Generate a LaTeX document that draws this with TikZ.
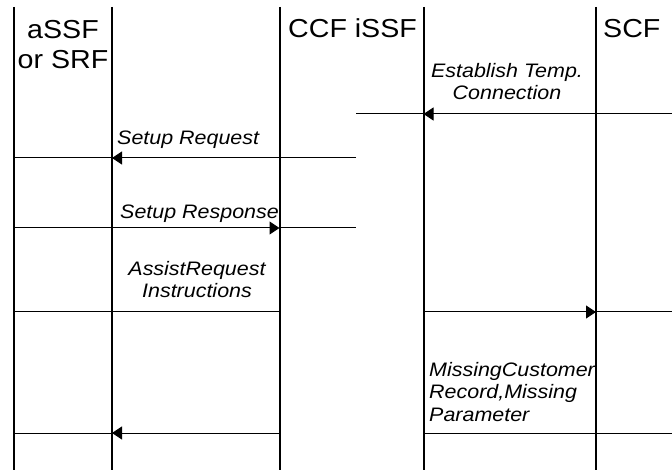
\documentclass[tikz,border=0pt]{standalone}
\usepackage{fontspec}
\setmainfont[FakeStretch=1.1]{Liberation Sans}
\usetikzlibrary{arrows.meta}
\begin{document}
\begin{tikzpicture}[x=1pt,y=-1pt,
  life/.style={line width=2pt},
  msg/.style={line width=1pt},
  tipped/.style={-{Triangle[length=10pt,width=13pt]}},
  head/.style={inner sep=0pt,font=\fontsize{26}{30}\selectfont},
  lab/.style={inner sep=0pt,font=\fontsize{19.5}{22.5}\selectfont\itshape}]
\useasboundingbox (0,0) rectangle (672,470);
% lifelines
\coordinate (aT) at (13.5,7);  \coordinate (aB) at (13.5,470);
\coordinate (bT) at (112,7);   \coordinate (bB) at (112,470);
\coordinate (cT) at (279.5,7); \coordinate (cB) at (279.5,470);
\coordinate (dT) at (423.5,7); \coordinate (dB) at (423.5,470);
\coordinate (eT) at (596,7);   \coordinate (eB) at (596,470);
\foreach \l in {a,b,c,d,e} \draw[life] (\l T) -- (\l B);
% headers
\node[head,anchor=base,align=center] (h1) at (63,69) {aSSF\\or SRF};
\node[head,anchor=base west] (h2) at (288,38) {CCF iSSF};
\node[head,anchor=base west] (h3) at (603,38) {SCF};
% message 1: Establish Temp. Connection
\coordinate (m1r) at (672,114); \coordinate (m1l) at (356,114);
\draw[msg,tipped] (m1r) -- (dT |- m1r);
\draw[msg] (dT |- m1r) -- (m1l);
\node[lab,anchor=base,align=center] (t1) at (507,100) {Establish Temp.\\Connection};
% message 2: Setup Request
\coordinate (m2r) at (356,158);
\draw[msg,tipped] (m2r) -- (bT |- m2r);
\draw[msg] (bT |- m2r) -- (aT |- m2r);
\node[lab,anchor=base west] (t2) at (117,145) {Setup Request};
% message 3: Setup Response
\coordinate (m3r) at (356,228);
\draw[msg,tipped] (aT |- m3r) -- (cT |- m3r);
\draw[msg] (cT |- m3r) -- (m3r);
\node[lab,anchor=base west] (t3) at (120,219) {Setup Response};
% message 4: AssistRequest Instructions
\coordinate (m4r) at (672,312);
\draw[msg] (aT |- m4r) -- (cT |- m4r);
\draw[msg,tipped] (dT |- m4r) -- (eT |- m4r);
\draw[msg] (eT |- m4r) -- (m4r);
\node[lab,anchor=base,align=center] (t4) at (197,298) {AssistRequest\\Instructions};
% message 5: MissingCustomer Record, Missing Parameter
\coordinate (m5r) at (672,433);
\draw[msg,tipped] (cT |- m5r) -- (bT |- m5r);
\draw[msg] (bT |- m5r) -- (aT |- m5r);
\draw[msg] (dT |- m5r) -- (m5r);
\node[lab,anchor=base west,align=left] (t5) at (429,421) {MissingCustomer\\Record,Missing\\Parameter};
\end{tikzpicture}
\end{document}
